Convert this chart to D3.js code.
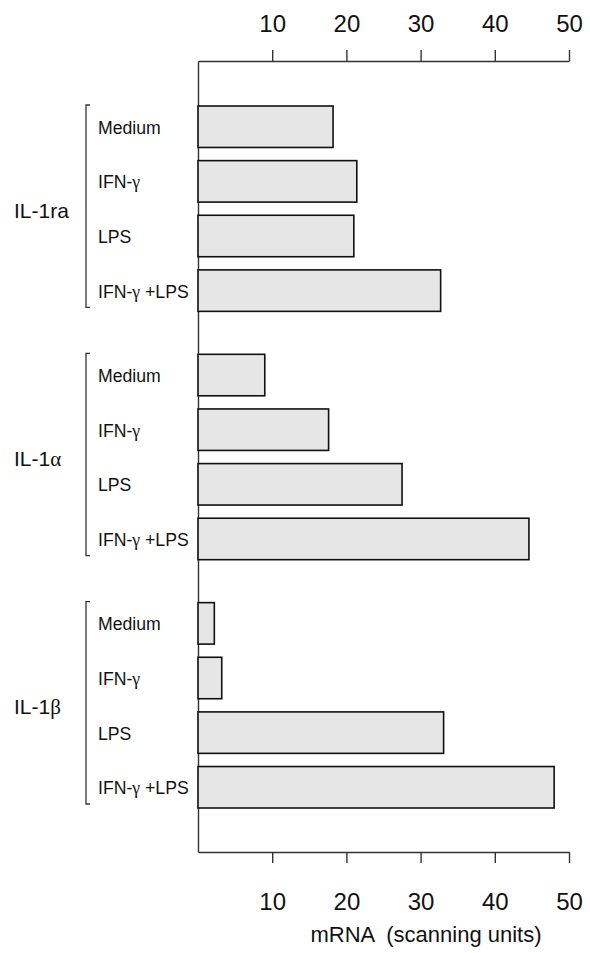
<!DOCTYPE html>
<html>
<head>
<meta charset="utf-8">
<script src="https://cdn.jsdelivr.net/npm/d3@7/dist/d3.min.js"></script>
<style>
  html, body { margin: 0; padding: 0; background: #fff; }
  svg { display: block; }
  text { font-family: "Liberation Sans", Arial, Helvetica, sans-serif; fill: #111; }
  .greek { font-family: "Liberation Serif", "DejaVu Serif", serif; }
</style>
</head>
<body>
<svg id="chart" width="590" height="953"></svg>
<script>
// Cytokine groups and stimulation conditions
const groups = ["IL-1ra", "IL-1α", "IL-1β"];
const conditions = ["Medium", "IFN-γ", "LPS", "IFN-γ +LPS"];

// mRNA levels (scanning units), one array per cytokine, in condition order
const il1ra = [18.2, 21.4, 21.0, 32.7];
const il1a  = [9.0, 17.6, 27.5, 44.6];
const il1b  = [2.2, 3.2, 33.1, 48.0];

const tickValues = [10, 20, 30, 40, 50];
const axisTitle = "mRNA  (scanning units)";

const seriesByGroup = { "IL-1ra": il1ra, "IL-1α": il1a, "IL-1β": il1b };
const rows = [];
groups.forEach(g => conditions.forEach((c, i) => rows.push({ group: g, cond: c, value: seriesByGroup[g][i] })));

const svg = d3.select("#chart");

const plotLeft = 198, plotRight = 569, plotTop = 61, plotBottom = 852;

const x = d3.scaleLinear().domain([0, 50]).range([plotLeft, plotRight]);

const yGroup = d3.scaleBand().domain(groups).range([106, 808]).paddingInner(0.173).paddingOuter(0);
const yCond = d3.scaleBand().domain(conditions).range([0, yGroup.bandwidth()]).paddingInner(0.241).paddingOuter(0);

// Top axis
const topAxis = svg.append("g")
  .attr("transform", `translate(0,${plotTop})`)
  .call(d3.axisTop(x).tickValues(tickValues).tickSize(11).tickSizeOuter(0).tickPadding(18));

// Bottom axis
const bottomAxis = svg.append("g")
  .attr("transform", `translate(0,${plotBottom})`)
  .call(d3.axisBottom(x).tickValues(tickValues).tickSize(11).tickSizeOuter(0).tickPadding(30));

// Vertical baseline at zero
const yLine = d3.scaleLinear().domain([0, 1]).range([plotTop, plotBottom]);
const leftAxis = svg.append("g")
  .attr("transform", `translate(${x(0)},0)`)
  .call(d3.axisLeft(yLine).tickValues([]).tickSizeOuter(0));

[topAxis, bottomAxis, leftAxis].forEach(a => {
  a.select(".domain").attr("stroke", "#333").attr("stroke-width", 1.4);
  a.selectAll(".tick line").attr("stroke", "#333").attr("stroke-width", 1.4);
  a.selectAll(".tick text")
    .attr("font-family", "'Liberation Sans', Arial, sans-serif")
    .attr("font-size", 24)
    .attr("fill", "#111");
});

// Bars
svg.append("g").selectAll("rect")
  .data(rows)
  .join("rect")
  .attr("x", x(0))
  .attr("y", d => yGroup(d.group) + yCond(d.cond))
  .attr("width", d => x(d.value) - x(0))
  .attr("height", yCond.bandwidth())
  .attr("fill", "#e6e6e6")
  .attr("stroke", "#111")
  .attr("stroke-width", 1.6);

// Helper: write a label, setting Greek letters in a serif face
function greekText(sel, str) {
  const parts = str.split(/([αβγ])/).filter(s => s.length);
  parts.forEach(p => {
    const t = sel.append("tspan").text(p);
    if (/[αβγ]/.test(p)) t.attr("class", "greek");
  });
}

// Condition labels (slightly condensed face)
rows.forEach(d => {
  const cy = yGroup(d.group) + yCond(d.cond) + yCond.bandwidth() / 2 + 7;
  const t = svg.append("text")
    .attr("transform", `translate(98,${cy}) scale(0.93,1)`)
    .attr("font-size", 19);
  greekText(t, d.cond);
});

// Group brackets and labels
groups.forEach(g => {
  const y0 = yGroup(g) - 1, y1 = yGroup(g) + yGroup.bandwidth() - 4;
  svg.append("path")
    .attr("d", `M90,${y0} H86 V${y1} H90`)
    .attr("fill", "none")
    .attr("stroke", "#333")
    .attr("stroke-width", 1.3);
  const t = svg.append("text")
    .attr("x", 14)
    .attr("y", yGroup(g) + yGroup.bandwidth() / 2 + 9)
    .attr("font-size", 21);
  greekText(t, g);
});

// Axis title
svg.append("text")
  .attr("x", 426)
  .attr("y", 942)
  .attr("text-anchor", "middle")
  .attr("font-size", 22)
  .attr("xml:space", "preserve")
  .style("white-space", "pre")
  .text(axisTitle);
</script>
</body>
</html>
